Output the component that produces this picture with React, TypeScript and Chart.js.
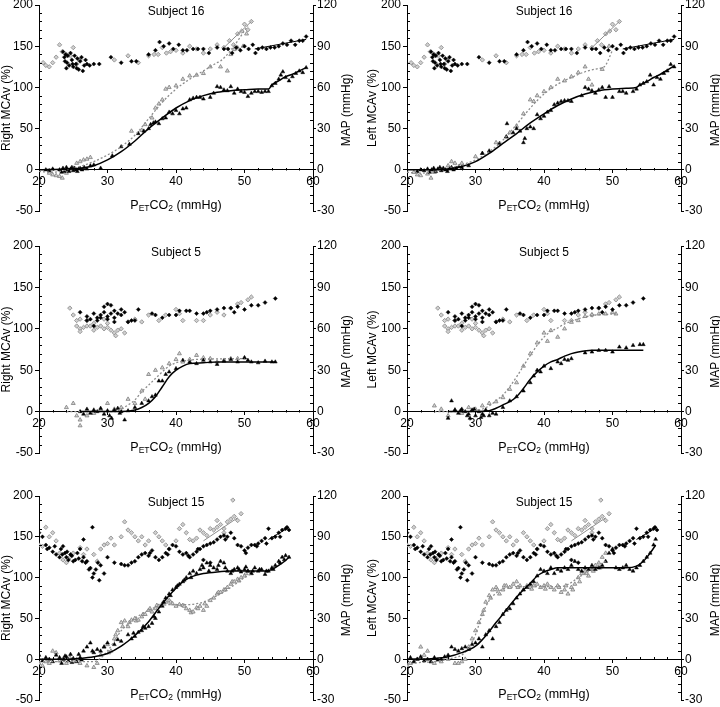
import React, { useEffect, useRef } from 'react';
import { Chart, registerables } from 'chart.js';
Chart.register(...registerables);

type P = [number, number];

// ---------- Subject 16 ----------
const S16_MAP_BLACK: P[] = [[23.5,86],[23.7,82],[23.9,84],[24.1,78],[24.2,83],[24.4,76],[24.6,85],[24.8,80],[25,75],[25.2,83],[25.4,77],[25.6,81],[25.8,73],[26,79],[26.2,82],[26.4,72],[26.6,76],[24,74],[24.9,77],[25.5,74],[23.8,79],[26.8,80],[27,77],[27.4,76],[28,77],[28.8,77],[30.5,82],[32,78],[33.5,79],[34.2,79],[36,84],[37,87],[37.6,93],[38.2,90],[39,92],[39.6,88],[40.4,91],[41,87],[41.6,87],[42.5,88],[43.2,88],[44,88],[44.8,85],[46,89],[47,88],[47.6,88],[48.2,85],[48.8,89],[49.4,87],[50,90],[50.6,88],[51.2,91],[51.6,85],[52,88],[52.6,89],[53.2,88],[53.8,89],[54.4,89],[55,90],[55.6,92],[56.2,91],[56.8,94],[57.4,91],[58,94],[58.5,94],[59,97]];
const S16_MAP_GRAY: P[] = [[20.6,78],[21,76],[21.5,75],[22,78],[22.5,82],[23,91],[23.4,86],[24,84],[24.6,83],[25,89],[25.5,77],[26,80],[31,80],[33,83],[34.5,78],[36,83],[36.8,84],[37.4,84],[38,89],[38.6,85],[39.2,86],[40,87],[41,85],[42,90],[43,88],[44,85],[45,88],[46,91],[47,89],[47.8,94],[48.4,91],[49,99],[49.6,101],[50,106],[50.5,102],[51,108]];
const S16_MAP_FIT_BLACK: P[] = [[51.5,88],[59,95]];
const S16_MAP_FIT_GRAY: P[] = [[47,89],[51,108]];

const S16R_TRI_BLACK: P[] = [[21,0],[21.5,-1],[22,1],[23,0],[23.3,-3],[23.5,2],[23.7,-2],[24,3],[24.2,0],[24.4,-2],[24.6,1],[24.8,3],[25,-1],[25.2,2],[25.4,0],[25.6,-2],[25.8,1],[26,2],[26.3,0],[26.6,3],[27,1],[27.5,5],[28,6],[29,2],[30.7,17],[32,28],[33.2,31],[34.5,44],[35.3,47],[36,50],[36.3,55],[36.7,57],[37,58],[37.5,56],[38,62],[38.5,63],[39,70],[39.5,68],[40,72],[40.5,68],[41,74],[41.5,75],[42,85],[42.5,87],[43,88],[43.5,88],[44,86],[45,88],[45.5,93],[46,101],[46.5,100],[47,97],[47.5,96],[48,101],[48.5,93],[49,98],[49.5,95],[50,94],[50.5,89],[51,93],[51.5,95],[52,95],[52.5,94],[53,95],[53.5,95],[54,102],[54.5,105],[55,110],[55.3,115],[55.6,119],[56,112],[56.5,108],[57,113],[57.5,117],[58,120],[58.5,118],[59,124]];
const S16R_TRI_GRAY: P[] = [[21.5,-4],[22,-6],[22.5,-7],[23,-8],[23.4,-10],[24,-4],[25,2],[25.5,8],[26,10],[26.5,12],[27,13],[27.5,15],[33.5,47],[35,48],[35.5,55],[36.5,63],[37,75],[37.5,80],[38,85],[38.5,98],[39,100],[40,102],[41,110],[42,114],[43,115],[44,117],[45,125],[46.5,125],[47.5,120],[48,140],[48.5,146],[49,148],[49.8,150],[50.3,165]];
const S16R_FIT_BLACK: P[] = [[20,0],[24,1],[26,2],[28,5],[30,12],[32,22],[34,35],[36,50],[38,63],[40,75],[42,84],[44,90],[46,94],[48,96],[50,97],[52,98],[53.5,98],[54,103],[55,108],[56,113],[57,116],[58,120],[59,124]];
const S16R_FIT_GRAY: P[] = [[20,-2],[22,-3],[24,0],[26,4],[28,10],[30,18],[32,28],[34,42],[36,62],[38,82],[40,98],[42,110],[44,120],[46,130],[46.5,132],[48,145],[50.5,175]];

const S16L_TRI_BLACK: P[] = [[21.5,-2],[22,0],[22.5,-1],[23,1],[23.3,-3],[23.6,0],[23.9,2],[24.2,-2],[24.5,1],[24.8,3],[25,-1],[25.3,2],[25.6,0],[25.9,-2],[26.2,1],[26.5,3],[26.8,0],[27.2,2],[27.6,4],[28,3],[29,5],[31,20],[32,23],[33.5,32],[34.5,40],[34.6,56],[35.5,45],[36,50],[36.5,47],[37,33],[37.2,38],[37.5,50],[38,52],[38.5,50],[39,67],[39.5,62],[40,65],[40.5,70],[41,72],[41.5,79],[42,81],[42.5,83],[43,84],[43.5,84],[44,83],[45.5,90],[46,100],[46.5,98],[47,96],[47.5,93],[48,97],[48.5,100],[49,88],[49.5,101],[50,88],[51,95],[51.5,95],[52,93],[53,95],[53.5,98],[54,103],[54.5,105],[55,107],[55.5,115],[56,103],[56.5,112],[57,110],[57.5,117],[58,120],[58.5,128],[59,125]];
const S16L_TRI_GRAY: P[] = [[21,-3],[21.5,-6],[22,-7],[23,-5],[23.5,-10],[24,-3],[25,0],[26,5],[26.5,10],[27,8],[28,8],[30,16],[31,20],[33,33],[34.5,40],[35,45],[36,53],[37,68],[38,85],[38.5,83],[39,90],[40,95],[41,100],[42,110],[43,108],[44,113],[45,118],[46,125],[46.5,110],[47,103],[48.5,122],[49.5,150]];
const S16L_FIT_BLACK: P[] = [[20,0],[24,0],[26,1],[28,4],[30,10],[32,20],[34,32],[36,44],[38,57],[40,68],[42,78],[44,86],[46,92],[48,96],[50,98],[52,99],[53.5,100],[54,103],[55,107],[56,112],[57,116],[58,121],[59,126]];
const S16L_FIT_GRAY: P[] = [[20,-3],[22,-4],[24,-2],[26,2],[28,6],[30,12],[32,22],[34,36],[36,55],[38,75],[40,92],[42,104],[44,112],[46,119],[48,123],[48.8,125],[50,145]];

// ---------- Subject 5 ----------
const S5_MAP_BLACK: P[] = [[26,72],[27,69],[27.5,67],[28,71],[28.5,66],[29,70],[29.5,72],[30,78],[30,69],[30.5,77],[31,73],[31.5,71],[32,74],[32.5,72],[33,65],[33.5,66],[34,66],[34.5,74],[36.5,71],[37,70],[38,68],[39,70],[40,70],[40.5,73],[41.5,73],[42,73],[43,71],[44,71],[44.5,72],[45,73],[46,74],[47,75],[48,75],[48.5,72],[49,76],[50,74],[51,77],[52,77],[53,79],[54.5,82],[27,66],[28,62],[29,68],[30,67],[31,68],[31,65],[32,70],[30.5,71],[29.5,76],[28.5,68]];
const S5_MAP_GRAY: P[] = [[24.5,75],[25,70],[25.5,66],[25.5,62],[26,60],[26,58],[26.5,61],[27,62],[27.5,62],[28,59],[28.5,61],[29,62],[29.5,60],[30,64],[30.5,59],[31,57],[31.2,55],[31.5,59],[32,60],[32.5,57],[33,65],[34,67],[35,65],[36,70],[37.5,66],[38.5,70],[40,74],[40.5,71],[41,66],[43,66],[44,66],[45,70],[46,72],[47,70],[48,75],[49,78],[49.5,79],[50.5,81],[51,83],[27,66],[26,67],[28,64],[29.5,67],[30,61]];
const S5_MAP_FIT: P[] = [];

const S5R_TRI_BLACK: P[] = [[26,0],[26.5,-3],[27,3],[27.5,-2],[28,2],[28.5,0],[29,4],[29.5,-3],[30,1],[30.3,-5],[30.6,-8],[31,2],[31.5,4],[31.8,-2],[32,0],[32.5,-10],[33,1],[34,5],[35,10],[36,13],[36.5,18],[37,20],[37.5,37],[38,37],[38.5,45],[39,48],[40,52],[41,62],[42,60],[43,58],[44,62],[45,60],[46,57],[47,61],[48,63],[49,60],[50,65],[50.5,62],[51,60],[52,59],[53,61],[54,60],[54.5,60]];
const S5R_TRI_GRAY: P[] = [[24,5],[25,10],[25.5,-5],[26,-10],[26,-17],[27,-5],[28,-2],[29,2],[30,10],[31,3],[32,5],[33,15],[34,10],[35,25],[35.5,15],[36,45],[37,50],[38,53],[39,58],[40,63],[40.5,70],[41,60],[42,63],[43,68],[44,65],[45,64],[46,60],[47,62],[48,64],[49,64],[50,65]];
const S5R_FIT_BLACK: P[] = [[26,0],[32,0],[34,2],[35,5],[36,10],[37,18],[38,30],[39,42],[40,50],[41,55],[42,58],[44,59],[46,60],[54.5,60]];
const S5R_FIT_GRAY: P[] = [[24,0],[31,0],[32,3],[33,8],[34,14],[35,24],[36,32],[37,40],[38,48],[39,55],[40,59],[41,61],[43,63],[50,64]];

const S5L_TRI_BLACK: P[] = [[26,-8],[26.5,13],[27,2],[27.5,-2],[27.8,1],[28,3],[28.5,0],[28.8,-5],[29,-3],[29.2,-8],[29.5,2],[29.8,3],[30,-5],[30.5,0],[30.8,-7],[31,-3],[31.2,-5],[31.5,2],[32,-5],[32.5,-2],[33,-3],[34,5],[35,13],[36,18],[37,25],[38,35],[38.5,43],[39,50],[39.5,48],[40,55],[41,52],[42,60],[42.5,58],[43,63],[43.5,62],[44,64],[46,71],[47,72],[48,74],[49,74],[50,72],[51,78],[52,77],[53,80],[54,81],[54.5,81]];
const S5L_TRI_GRAY: P[] = [[24,7],[25,3],[26,-5],[27,2],[28,-2],[29,5],[30,3],[31,7],[32,10],[33,12],[34,17],[35,27],[36,35],[37,55],[38,70],[39,83],[40,95],[40.5,85],[41,98],[42,90],[43,100],[44,108],[45,110],[46,115],[47,117],[48,118],[49,118],[50,120],[50.5,118]];
const S5L_FIT_BLACK: P[] = [[26,0],[30,0],[32,1],[33,4],[34,8],[35,12],[36,18],[37,28],[38,39],[39,48],[40,55],[41,60],[42,63],[43,67],[44,70],[45,72],[47,74],[50,74],[54.5,74]];
const S5L_FIT_GRAY: P[] = [[24,0],[29,0],[30,1],[31,3],[32,7],[33,13],[34,20],[35,30],[36,42],[37,55],[38,68],[39,80],[40,90],[41,97],[42,101],[43,106],[44,109],[45,112],[47,116],[50.5,118]];

// ---------- Subject 15 ----------
const S15_MAP_BLACK: P[] = [[20,93],[20.5,90],[21,84],[21.5,82],[22,79],[22.5,77],[23,75],[23.2,81],[23.5,83],[23.8,78],[24,75],[24.3,73],[24.6,77],[25,72],[25.3,73],[25.6,78],[26,81],[26.3,72],[26.5,75],[26.8,71],[27,72],[27.3,66],[27.5,67],[27.8,60],[28,63],[28.3,66],[28.6,71],[28.8,58],[29,69],[29.5,63],[27.8,97],[26.5,88],[30,75],[31,71],[32,70],[32.5,69],[33,69],[33.5,71],[34,72],[34.5,75],[35,77],[35.5,78],[36,76],[36.5,80],[37,75],[37.5,73],[38,75],[38.5,78],[39,81],[39.5,84],[40,83],[40.5,79],[41,77],[41.5,78],[42,75],[42.5,77],[43,79],[43.5,81],[44,83],[44.5,84],[45,85],[45.5,86],[46,88],[46.5,90],[47,91],[47.5,90],[48,93],[48.5,89],[49,84],[49.5,83],[50,80],[50.5,82],[51,84],[51.5,84],[52,85],[52.5,87],[53,89],[53.5,96],[54,89],[54.5,90],[55,93],[55.5,95],[56,96],[56.5,95],[45,71],[44,73],[21.2,81],[22.3,83],[23.4,77],[24.1,79],[24.8,76],[25.8,74],[36.2,78],[38.8,77],[41.8,76],[43.2,81],[47.2,88],[50.2,78],[51.8,83],[53.2,85],[55.2,90],[56.2,97]];
const S15_MAP_GRAY: P[] = [[20,84],[20.5,83],[21,97],[21.5,90],[22,93],[22.5,87],[23,78],[23.5,73],[24,71],[24.5,75],[25,78],[26,82],[26.5,77],[27,81],[28,77],[28.5,72],[29,81],[29.5,84],[30,85],[30.5,89],[31,84],[32,90],[32.5,101],[33,95],[33.5,93],[34,90],[34.5,87],[35,90],[35.5,84],[36,87],[37,93],[37.5,90],[38,87],[38.5,84],[39,81],[40,87],[40.5,96],[41,99],[41.5,93],[42,88],[42.5,87],[43,89],[43.5,95],[44,93],[44.5,91],[45,96],[45.5,95],[46,97],[46.5,99],[47,96],[47.5,101],[48,103],[48.3,117],[48.5,105],[49,102],[49.5,107],[46,102],[47,93]];
const S15_MAP_FIT_BLACK: P[] = [[53.5,88],[56.5,97]];
const S15_MAP_FIT_GRAY: P[] = [[44,87],[49,104]];

const S15R_TRI_BLACK: P[] = [[20,5],[20.5,-2],[21,2],[21.5,0],[22,-3],[22.5,5],[23,2],[23.3,-5],[23.6,0],[23.8,4],[24,3],[24.3,-2],[24.6,6],[24.8,-4],[25,1],[25.5,-3],[25.8,6],[26,2],[26.2,-1],[26.5,10],[27,15],[27.5,20],[27.8,10],[28,8],[28.5,12],[29,10],[29.5,15],[30,20],[31,18],[31.5,24],[32,22],[33,30],[33.5,25],[33.8,32],[34,28],[34.5,33],[35,35],[35.2,40],[35.5,38],[36,40],[36.5,44],[36.8,52],[37,50],[37.5,58],[38,65],[38.2,70],[38.5,75],[39,80],[39.2,78],[39.5,85],[40,88],[40.2,90],[40.5,92],[41,95],[41.2,97],[41.5,100],[42,105],[42.2,100],[42.5,108],[43,105],[43.5,110],[43.8,115],[44,112],[44.5,118],[44.8,108],[45,115],[45.5,112],[46,110],[46.2,115],[46.5,120],[47,118],[47.2,112],[47.5,108],[48,105],[48.2,108],[48.5,110],[49,112],[49.2,110],[49.5,107],[50,110],[50.2,113],[50.5,108],[51,105],[51.2,108],[51.5,112],[52,108],[52.2,110],[52.5,110],[53,104],[53.2,108],[53.5,108],[54,112],[54.2,110],[54.5,115],[55,120],[55.2,118],[55.5,125],[55.8,122],[56,127],[56.5,125]];
const S15R_TRI_GRAY: P[] = [[20,-5],[20.5,-8],[21,-3],[21.5,-5],[22,10],[22.5,8],[23,-2],[23.5,0],[24,-5],[24.5,2],[25,-3],[25.5,0],[26,-5],[27,-8],[28,-10],[28.5,-5],[29,5],[29.5,15],[30,18],[30.2,8],[30.5,10],[31,25],[31.2,30],[31.5,35],[32,45],[32.2,40],[32.5,47],[33,40],[33.2,45],[33.5,48],[34,50],[34.2,47],[34.5,48],[35,52],[35.2,55],[35.5,55],[36,60],[36.2,62],[36.5,58],[37,62],[37.2,66],[37.5,65],[38,68],[38.2,70],[38.5,70],[39,72],[39.2,70],[39.5,68],[40,65],[40.5,67],[41,66],[41.2,65],[41.5,62],[42,60],[42.2,57],[42.5,58],[43,63],[43.2,62],[43.5,65],[44,60],[44.2,68],[44.5,65],[45,72],[45.5,75],[46,80],[46.2,82],[46.5,82],[47,85],[47.2,85],[47.5,88],[48,92],[48.2,95],[48.5,95],[49,98],[49.2,96],[49.5,100],[50,102],[50.2,105],[50.5,108],[51,105]];
const S15R_FIT_BLACK: P[] = [[20,0],[24,0],[26,1],[28,3],[30,7],[32,16],[34,29],[35,37],[36,46],[37,57],[38,68],[39,78],[40,87],[41,95],[42,100],[43,103],[44,105],[46,107],[48,108],[53,108],[54,110],[55,115],[56,121],[56.5,125]];
const S15R_FIT_GRAY: P[] = [[20,-3],[24,-3],[28,-3],[28.8,0],[30,10],[31,22],[32,35],[33,43],[34,50],[36,60],[38,66],[40,67],[42,67],[43,68],[44,70],[46,78],[48,88],[50,100],[51,105]];

const S15L_TRI_BLACK: P[] = [[20,-2],[20.5,2],[21,-3],[21.5,0],[22,3],[22.5,-2],[23,0],[23.5,-3],[24,2],[24.5,-1],[25,0],[25.5,3],[26,5],[26.5,15],[27,12],[27.5,10],[28,13],[28.5,15],[29,12],[29.5,18],[30,20],[30.5,25],[31,15],[31.5,30],[32,35],[32.5,25],[33,40],[33.5,45],[34,55],[34.5,60],[35,62],[35.5,68],[36,75],[36.5,80],[37,85],[37.5,88],[38,92],[38.5,95],[39,102],[39.5,110],[40,108],[40.5,105],[41,112],[41.5,105],[42,110],[42.5,108],[43,112],[43.5,110],[44,115],[44.5,120],[45,110],[45.5,108],[46,112],[46.5,110],[47,115],[47.5,110],[48,112],[48.5,115],[49,120],[49.5,130],[50,135],[50.5,112],[51,110],[51.5,112],[52,115],[52.5,110],[53,108],[53.5,112],[54,115],[54.5,120],[55,125],[55.5,130],[56,140],[56.3,147]];
const S15L_TRI_GRAY: P[] = [[20,-8],[20.5,-5],[21,-3],[21.5,0],[22,15],[22.5,5],[23,10],[23.5,-3],[24,-5],[25,-3],[26,0],[27,-5],[27.5,-5],[28,-3],[28.5,0],[29,15],[29.5,25],[30,35],[30.5,45],[31,55],[31.2,60],[31.5,70],[32,78],[32.2,75],[32.5,85],[33,88],[33.2,85],[33.5,80],[34,85],[34.2,90],[34.5,90],[35,88],[35.5,92],[36,95],[36.2,88],[36.5,90],[37,85],[37.5,90],[38,88],[38.2,86],[38.5,90],[39,92],[39.5,88],[40,90],[40.2,86],[40.5,92],[41,88],[41.5,85],[42,90],[42.2,88],[42.5,82],[43,85],[43.2,90],[43.5,80],[44,88],[44.2,85],[44.5,92],[45,100],[45.2,95],[45.5,105],[46,108],[46.2,105],[46.5,102],[47,110],[47.2,108],[47.5,115],[48,118],[48.2,112],[48.5,125],[49,130]];
const S15L_FIT_BLACK: P[] = [[20,0],[24,1],[26,3],[28,8],[30,16],[31,24],[32,34],[33,45],[34,55],[35,66],[36,76],[37,85],[38,93],[39,102],[40,107],[41,110],[42,112],[44,112],[48,112],[52,112],[53.5,114],[54.5,120],[55.5,130],[56.3,140]];
const S15L_FIT_GRAY: P[] = [[20,-6],[22,-4],[24,-3],[26,0],[27,2],[28,5],[29,14],[30,30],[31,55],[32,72],[33,81],[34,86],[35,88],[36,89],[40,89],[42.5,89],[44,94],[45,100],[46,105],[47,110],[48,115],[49,120]];

const FONT = '"Liberation Sans", Arial, Helvetica, sans-serif';

if (typeof document !== 'undefined') {
  document.body.style.margin = '0';
}

const axisDecor = {
  id: 'axisDecor',
  afterDraw(chart: any, _args: any, opts: any) {
    const { ctx, chartArea: ca, scales } = chart;
    const sx = scales.x, sy = scales.y, sy2 = scales.y2;
    ctx.save();
    ctx.strokeStyle = '#000';
    ctx.lineWidth = 1;
    ctx.beginPath();
    for (let v = -40; v < 200; v += 10) {
      if (v % 50 === 0) continue;
      const p = Math.round(sy.getPixelForValue(v)) + 0.5;
      ctx.moveTo(ca.left, p); ctx.lineTo(ca.left + 3, p);
    }
    for (let v = -24; v < 120; v += 6) {
      if (v % 30 === 0) continue;
      const p = Math.round(sy2.getPixelForValue(v)) + 0.5;
      ctx.moveTo(ca.right, p); ctx.lineTo(ca.right - 3, p);
    }
    const y0 = Math.round(sy.getPixelForValue(0)) + 0.5;
    for (let v = 22; v < 60; v += 2) {
      if (v % 10 === 0) continue;
      const p = Math.round(sx.getPixelForValue(v)) + 0.5;
      ctx.moveTo(p, y0); ctx.lineTo(p, y0 - 2.5);
    }
    ctx.stroke();

    ctx.fillStyle = '#000';
    const cx = (ca.left + ca.right) / 2;
    const cy = (ca.top + ca.bottom) / 2;
    ctx.font = `12px ${FONT}`;
    ctx.textAlign = 'center';
    ctx.textBaseline = 'middle';
    ctx.fillText(opts.title, cx, ca.top + 7);

    ctx.save();
    ctx.translate(opts.ytX, cy);
    ctx.rotate(-Math.PI / 2);
    ctx.fillText(opts.ylabel, 0, 0);
    ctx.restore();
    ctx.save();
    ctx.translate(opts.y2tX, cy + 2);
    ctx.rotate(-Math.PI / 2);
    ctx.fillText('MAP (mmHg)', 0, 0);
    ctx.restore();

    const parts = [
      { t: 'P', s: false }, { t: 'ET', s: true }, { t: 'CO', s: false },
      { t: '2', s: true }, { t: ' (mmHg)', s: false },
    ];
    const big = `12.5px ${FONT}`, small = `8.5px ${FONT}`;
    let total = 0;
    const widths = parts.map((p) => {
      ctx.font = p.s ? small : big;
      const w = ctx.measureText(p.t).width;
      total += w;
      return w;
    });
    let x = cx - total / 2;
    const base = ca.bottom - 2;
    ctx.textAlign = 'left';
    ctx.textBaseline = 'alphabetic';
    parts.forEach((p, i) => {
      ctx.font = p.s ? small : big;
      ctx.fillText(p.t, x, p.s ? base + 1.5 : base);
      x += widths[i];
    });
    ctx.restore();
  },
};

interface PanelCfg {
  left: number; top: number; w: number; h: number;
  yw: number; y2w: number; ytX: number; y2tX: number;
  title: string; ylabel: string;
  triB: P[]; triG: P[]; fitB: P[]; fitG: P[];
  mapB: P[]; mapG: P[]; mapFitB: P[]; mapFitG: P[];
}

const ROWS = [{ top: -5, h: 226 }, { top: 236, h: 227 }, { top: 486, h: 224 }];
const LEFT_COL = { left: 0, w: 360, yw: 39, y2w: 47, ytX: 6.5, y2tX: 347 };
const RIGHT_COL = { left: 360, w: 364, yw: 47, y2w: 43, ytX: 13, y2tX: 356 };

const PANELS: PanelCfg[] = [
  { ...LEFT_COL, ...ROWS[0], title: 'Subject 16', ylabel: 'Right MCAv (%)', triB: S16R_TRI_BLACK, triG: S16R_TRI_GRAY, fitB: S16R_FIT_BLACK, fitG: S16R_FIT_GRAY, mapB: S16_MAP_BLACK, mapG: S16_MAP_GRAY, mapFitB: S16_MAP_FIT_BLACK, mapFitG: S16_MAP_FIT_GRAY },
  { ...RIGHT_COL, ...ROWS[0], title: 'Subject 16', ylabel: 'Left MCAv (%)', triB: S16L_TRI_BLACK, triG: S16L_TRI_GRAY, fitB: S16L_FIT_BLACK, fitG: S16L_FIT_GRAY, mapB: S16_MAP_BLACK, mapG: S16_MAP_GRAY, mapFitB: S16_MAP_FIT_BLACK, mapFitG: S16_MAP_FIT_GRAY },
  { ...LEFT_COL, ...ROWS[1], title: 'Subject 5', ylabel: 'Right MCAv (%)', triB: S5R_TRI_BLACK, triG: S5R_TRI_GRAY, fitB: S5R_FIT_BLACK, fitG: S5R_FIT_GRAY, mapB: S5_MAP_BLACK, mapG: S5_MAP_GRAY, mapFitB: S5_MAP_FIT, mapFitG: S5_MAP_FIT },
  { ...RIGHT_COL, ...ROWS[1], title: 'Subject 5', ylabel: 'Left MCAv (%)', triB: S5L_TRI_BLACK, triG: S5L_TRI_GRAY, fitB: S5L_FIT_BLACK, fitG: S5L_FIT_GRAY, mapB: S5_MAP_BLACK, mapG: S5_MAP_GRAY, mapFitB: S5_MAP_FIT, mapFitG: S5_MAP_FIT },
  { ...LEFT_COL, ...ROWS[2], title: 'Subject 15', ylabel: 'Right MCAv (%)', triB: S15R_TRI_BLACK, triG: S15R_TRI_GRAY, fitB: S15R_FIT_BLACK, fitG: S15R_FIT_GRAY, mapB: S15_MAP_BLACK, mapG: S15_MAP_GRAY, mapFitB: S15_MAP_FIT_BLACK, mapFitG: S15_MAP_FIT_GRAY },
  { ...RIGHT_COL, ...ROWS[2], title: 'Subject 15', ylabel: 'Left MCAv (%)', triB: S15L_TRI_BLACK, triG: S15L_TRI_GRAY, fitB: S15L_FIT_BLACK, fitG: S15L_FIT_GRAY, mapB: S15_MAP_BLACK, mapG: S15_MAP_GRAY, mapFitB: S15_MAP_FIT_BLACK, mapFitG: S15_MAP_FIT_GRAY },
];

function Panel({ cfg }: { cfg: PanelCfg }) {
  const ref = useRef<HTMLCanvasElement>(null);
  useEffect(() => {
    const xy = (a: P[]) => a.map(([x, y]) => ({ x, y }));
    const lineDs = (data: P[], color: string, dash: number[], width: number, axis: string) => ({
      data: xy(data), showLine: true, borderColor: color, borderWidth: width, borderDash: dash,
      pointRadius: 0, pointHoverRadius: 0, cubicInterpolationMode: 'monotone', fill: false, yAxisID: axis,
    });
    const ptDs = (data: P[], style: string, r: number, bg: string, border: string, bw: number, axis: string) => ({
      data: xy(data), showLine: false, pointStyle: style, pointRadius: r, pointHoverRadius: r,
      backgroundColor: bg, borderColor: border, borderWidth: bw, yAxisID: axis,
    });
    const datasets = [
      lineDs(cfg.fitB, '#000', [], 1.5, 'y'),
      lineDs(cfg.fitG, '#8c8c8c', [2, 2], 1.3, 'y'),
      lineDs(cfg.mapFitB, '#000', [], 1, 'y2'),
      lineDs(cfg.mapFitG, '#8c8c8c', [], 1, 'y2'),
      ptDs(cfg.triB, 'triangle', 2.2, '#000', '#000', 0.5, 'y'),
      ptDs(cfg.mapB, 'rectRot', 2, '#000', '#000', 0.5, 'y2'),
      ptDs(cfg.triG, 'triangle', 2.3, '#d4d4d4', '#7d7d7d', 0.8, 'y'),
      ptDs(cfg.mapG, 'rectRot', 2.2, '#cfcfcf', '#888', 0.8, 'y2'),
    ];
    const tickFont = { size: 12, family: FONT };
    const chart = new Chart(ref.current as HTMLCanvasElement, {
      type: 'scatter',
      data: { datasets } as any,
      options: {
        responsive: false,
        animation: false,
        devicePixelRatio: 1,
        events: [],
        layout: { padding: { top: 10, bottom: 10, left: 0, right: 0 } },
        plugins: {
          legend: { display: false },
          tooltip: { enabled: false },
          axisDecor: { title: cfg.title, ylabel: cfg.ylabel, ytX: cfg.ytX, y2tX: cfg.y2tX },
        } as any,
        scales: {
          x: {
            type: 'linear', min: 20, max: 60, position: { y: 0 } as any,
            grid: { display: true, drawOnChartArea: false, drawTicks: true, tickLength: 3, color: '#000' },
            border: { display: true, color: '#000', width: 1 },
            ticks: { stepSize: 10, color: '#000', font: tickFont, padding: 2, maxRotation: 0, autoSkip: false },
          },
          y: {
            type: 'linear', position: 'left', min: -50, max: 200,
            grid: { display: true, drawOnChartArea: false, drawTicks: true, tickLength: 4, color: '#000' },
            border: { display: true, color: '#000', width: 1 },
            ticks: { stepSize: 50, color: '#000', font: tickFont, padding: 2 },
            afterFit: (s: any) => { s.width = cfg.yw; },
          },
          y2: {
            type: 'linear', position: 'right', min: -30, max: 120,
            grid: { display: true, drawOnChartArea: false, drawTicks: true, tickLength: 3, color: '#000' },
            border: { display: true, color: '#000', width: 1 },
            ticks: { stepSize: 30, color: '#000', font: tickFont, padding: 1 },
            afterFit: (s: any) => { s.width = cfg.y2w; },
          },
        } as any,
      },
      plugins: [axisDecor as any],
    });
    return () => chart.destroy();
  }, [cfg]);
  return (
    <canvas
      ref={ref}
      width={cfg.w}
      height={cfg.h}
      style={{ position: 'absolute', left: cfg.left, top: cfg.top, width: cfg.w, height: cfg.h, display: 'block' }}
    />
  );
}

export default function App() {
  return (
    <div style={{ position: 'relative', width: 720, height: 707, overflow: 'hidden', background: '#fff' }}>
      {PANELS.map((p, i) => (
        <Panel key={i} cfg={p} />
      ))}
    </div>
  );
}
